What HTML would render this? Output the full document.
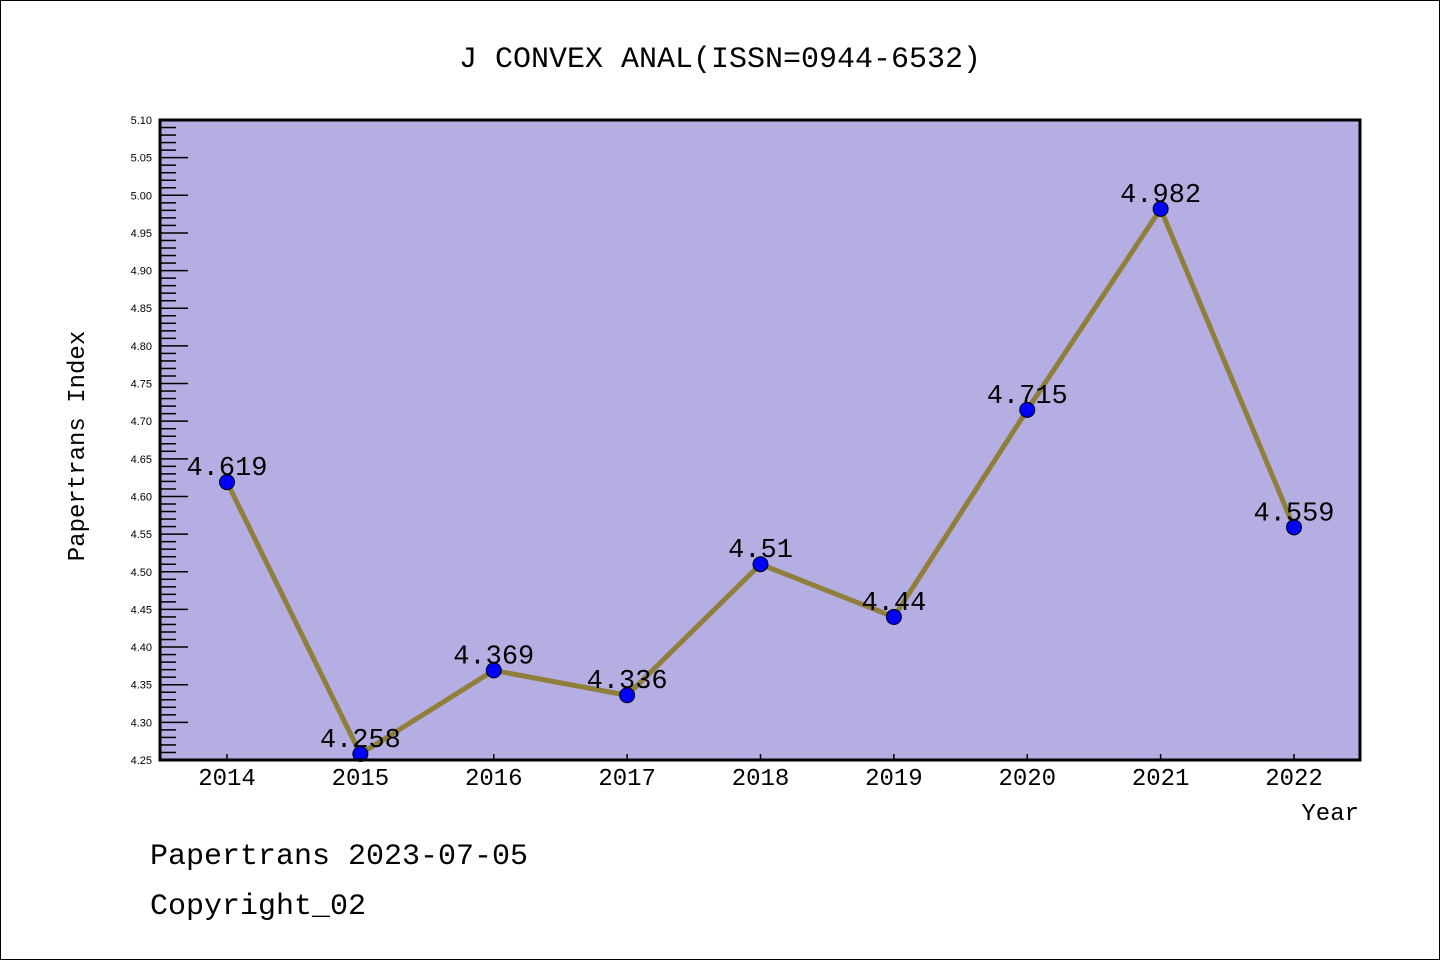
<!DOCTYPE html>
<html><head><meta charset="utf-8"><style>
html,body{margin:0;padding:0;background:#fff;}
svg{display:block;}
text{font-family:"Liberation Mono","WenQuanYi Zen Hei",monospace;fill:#000;}
.yt{font-family:"Liberation Sans","DejaVu Sans",sans-serif;font-size:11px;}
</style></head><body>
<svg id="chart" width="1440" height="960" xmlns="http://www.w3.org/2000/svg">
<rect x="0.5" y="0.5" width="1439" height="959" fill="#fff" stroke="#000" stroke-width="1"/>
<text x="720" y="67" font-size="30" text-anchor="middle">J CONVEX ANAL(ISSN=0944-6532)</text>
<rect x="160" y="120" width="1200" height="640" fill="#b5aee2"/>
<g id="yaxis"></g>
<g id="xaxis"></g>
<g id="series"></g>
<rect x="160" y="120" width="1200" height="640" fill="none" stroke="#000" stroke-width="3"/>
<text transform="translate(84,446) rotate(-90)" font-size="24" text-anchor="middle">Papertrans Index</text>
<text x="1359" y="820" font-size="24" text-anchor="end">Year</text>
<text x="150" y="864" font-size="30">Papertrans 2023-07-05</text>
<text x="150" y="914" font-size="30">Copyright_02</text>
</svg>
<script>
const years = ["2014","2015","2016","2017","2018","2019","2020","2021","2022"];
const values = [4.619,4.258,4.369,4.336,4.51,4.44,4.715,4.982,4.559];
const valueLabels = ["4.619","4.258","4.369","4.336","4.51","4.44","4.715","4.982","4.559"];
const yTicks = ["4.25","4.30","4.35","4.40","4.45","4.50","4.55","4.60","4.65","4.70","4.75","4.80","4.85","4.90","4.95","5.00","5.05","5.10"];
const yMin = 4.25, yMax = 5.10;
const NS = "http://www.w3.org/2000/svg";
function yScale(v){ return 760 - (v - yMin) / (yMax - yMin) * 640; }
function xScale(i){ return 227 + i * (1294 - 227) / (years.length - 1); }
function mk(tag, attrs, parent){ const e = document.createElementNS(NS, tag); for (const k in attrs) e.setAttribute(k, attrs[k]); parent.appendChild(e); return e; }
const ya = document.getElementById('yaxis');
for (let k = 0; k <= Math.round((yMax - yMin) / 0.01); k++) {
  const v = yMin + k * 0.01, y = yScale(v);
  const major = k % 5 === 0;
  const t = mk('line', {x1:160, x2:160 + (major ? 28 : 16), y1:y, y2:y, stroke:'#000', 'stroke-width':1.5}, ya);
  
  
}
yTicks.forEach(s => {
  const y = yScale(parseFloat(s));
  const t = mk('text', {x:152, y:y + 4, 'text-anchor':'end', class:'yt'}, ya);
  t.textContent = s;
  
  
});
const xa = document.getElementById('xaxis');
years.forEach((yr, i) => {
  const x = xScale(i);
  const tk = mk('line', {x1:x, x2:x, y1:760, y2:754, stroke:'#000', 'stroke-width':1.5}, xa);
  
  
  const t = mk('text', {x:x, y:785, 'text-anchor':'middle', 'font-size':24}, xa);
  t.textContent = yr;
  
  
});
const sg = document.getElementById('series');
const pts = values.map((v, i) => xScale(i) + ',' + yScale(v)).join(' ');
const pl = mk('polyline', {points:pts, fill:'none', stroke:'#8f7f3a', 'stroke-width':5, 'stroke-linejoin':'round'}, sg);


values.forEach((v, i) => {
  const x = xScale(i), y = yScale(v);
  const c = mk('circle', {cx:x, cy:y, r:7.5, fill:'#0000ff', stroke:'#000', 'stroke-width':1}, sg);
  
  
});
values.forEach((v, i) => {
  const t = mk('text', {x:xScale(i), y:yScale(v) - 7, 'text-anchor':'middle', 'font-size':27}, sg);
  t.textContent = valueLabels[i];
  
  
});
</script>
</body></html>
